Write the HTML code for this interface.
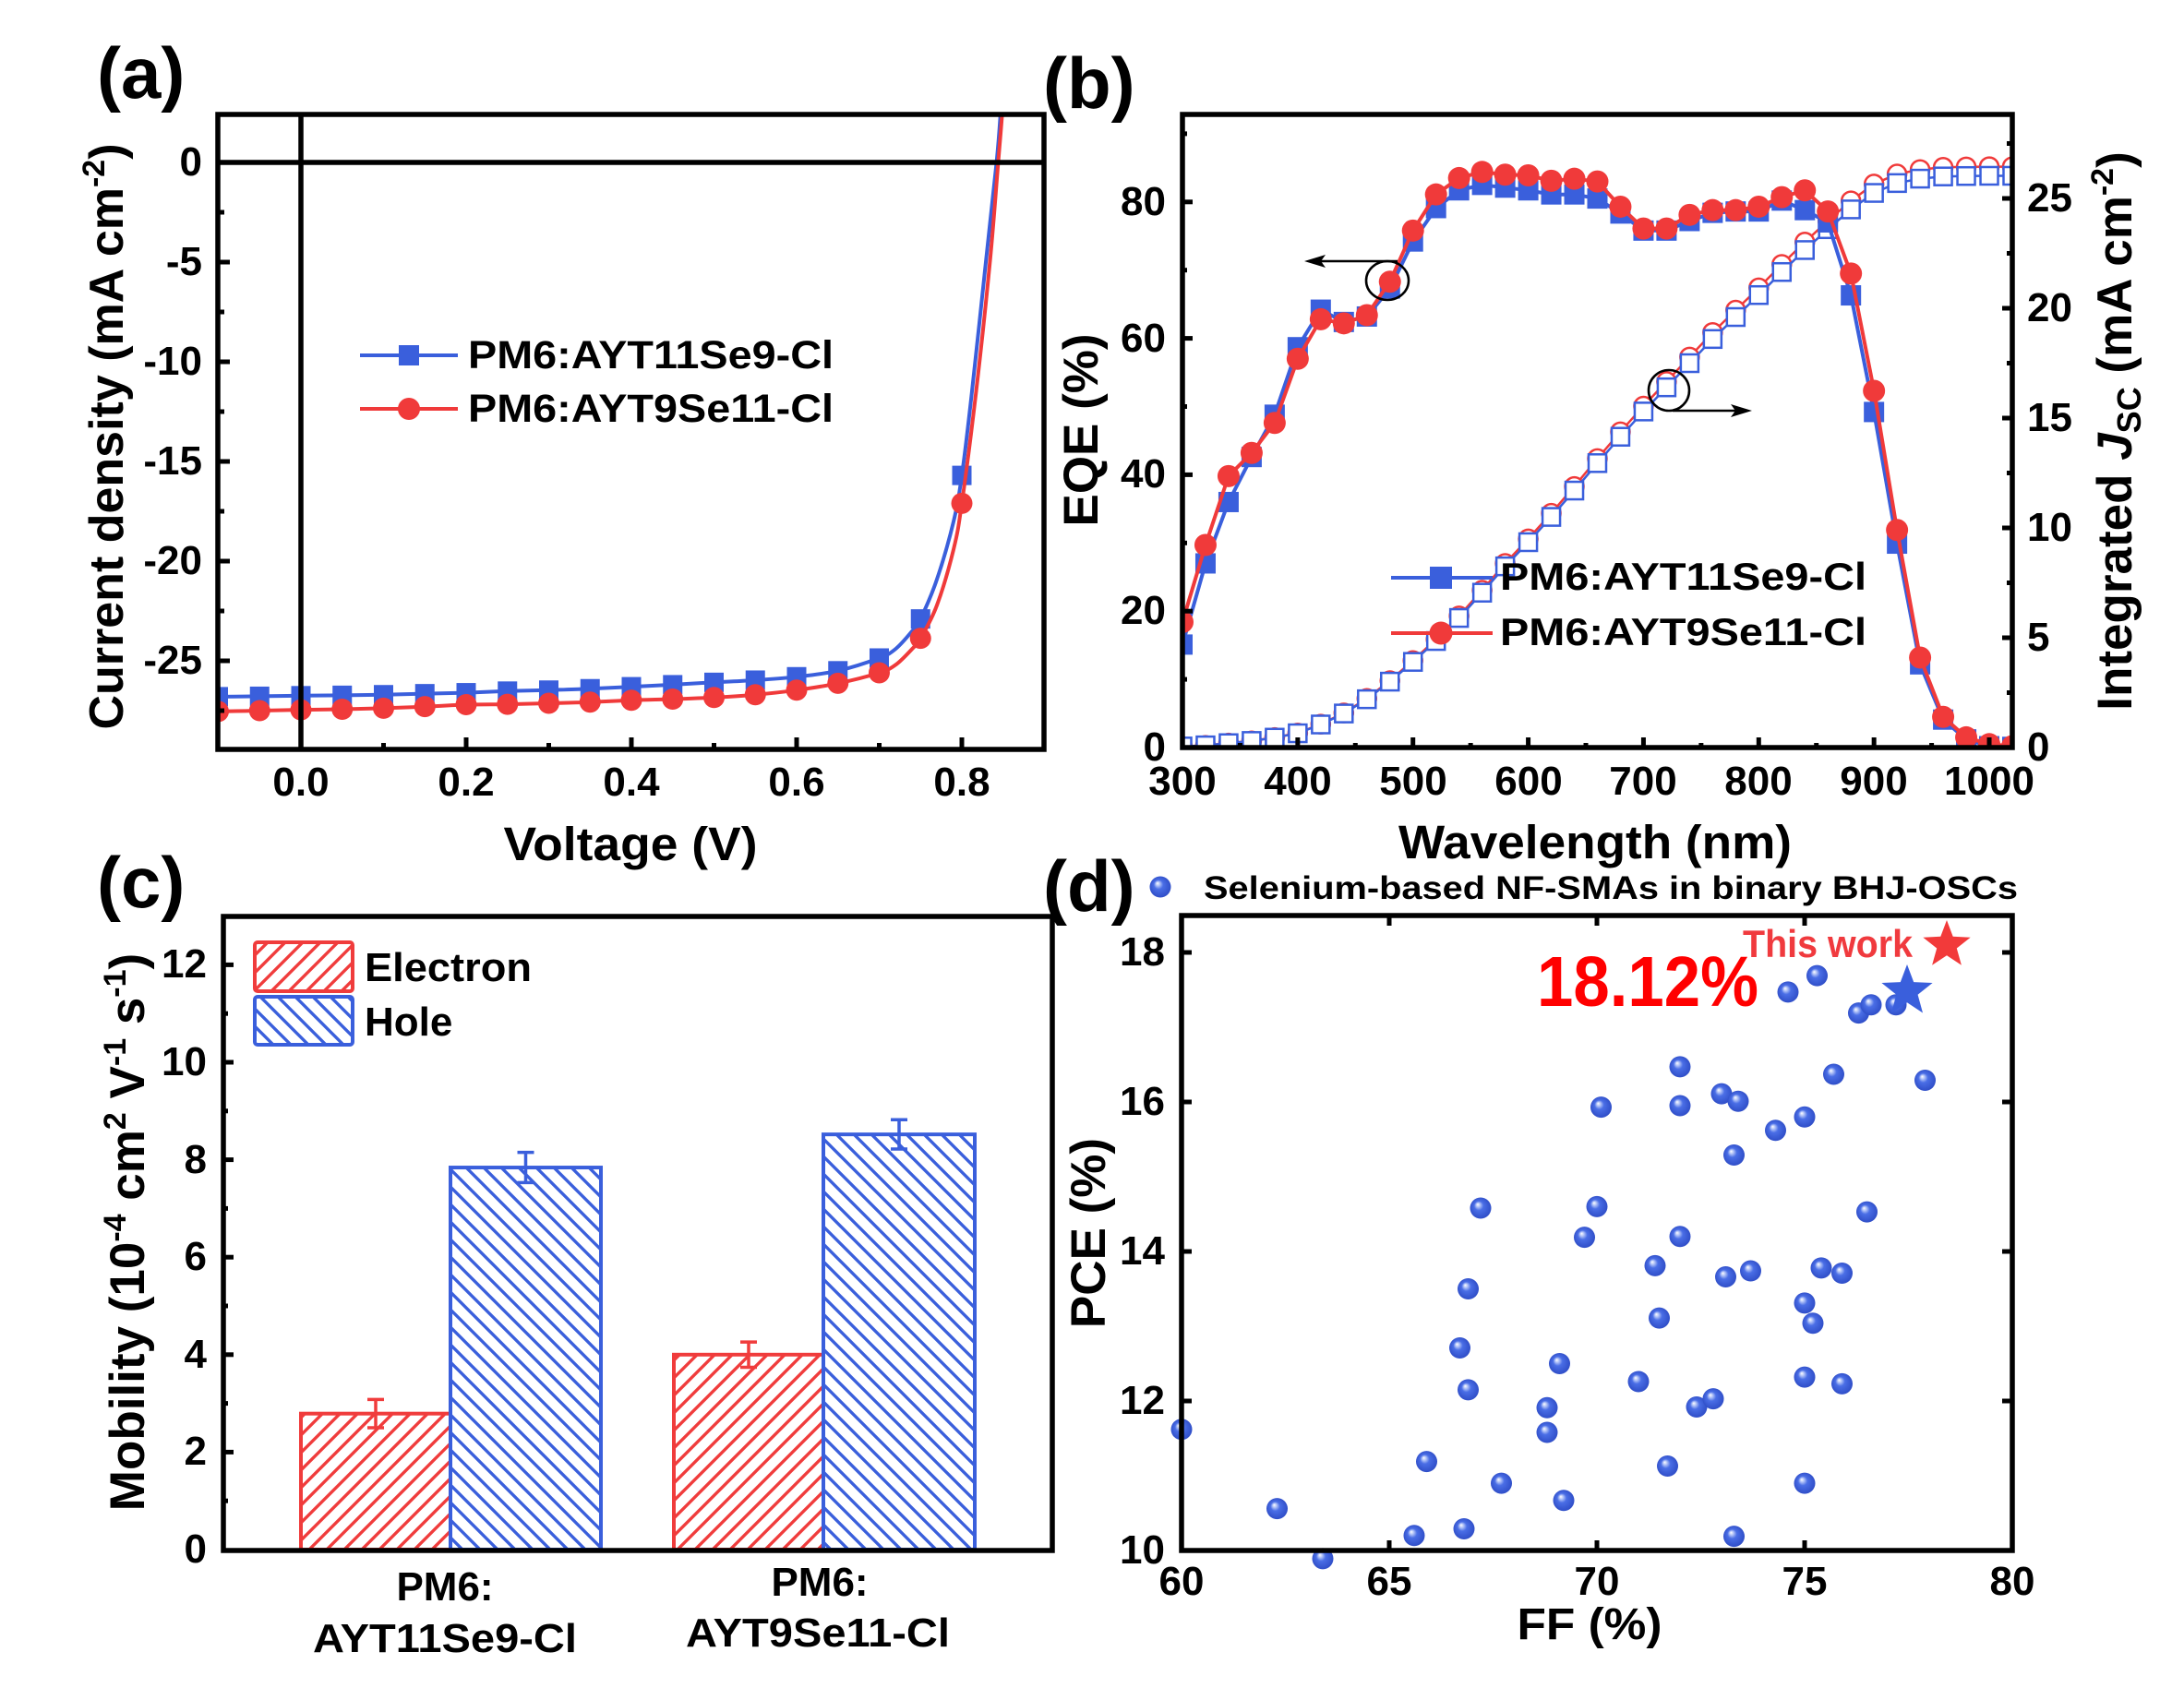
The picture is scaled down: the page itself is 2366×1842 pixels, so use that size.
<!DOCTYPE html>
<html><head><meta charset="utf-8"><title>chart</title>
<style>
html,body{margin:0;padding:0;background:#fff;width:2366px;height:1842px;overflow:hidden;}
svg{display:block;}
text{font-family:"Liberation Sans",Arial,sans-serif;font-weight:bold;fill:#000;}
</style></head><body>
<svg id="s" xmlns="http://www.w3.org/2000/svg" width="2366" height="1842" viewBox="0 0 2366 1842">
<defs>
<pattern id="hr" patternUnits="userSpaceOnUse" width="19" height="19"><path d="M0,19L19,0M-3,3L3,-3M16,22L22,16" stroke="#f03c3c" stroke-width="3.4" fill="none"/></pattern>
<pattern id="hb" patternUnits="userSpaceOnUse" width="19" height="19"><path d="M0,0L19,19M-3,16L3,22M16,-3L22,3" stroke="#3a5fdc" stroke-width="3.4" fill="none"/></pattern>
<radialGradient id="sph" cx="0.5" cy="0.5" r="0.55" fx="0.36" fy="0.32">
<stop offset="0" stop-color="#ffffff"/>
<stop offset="0.16" stop-color="#b8c8f8"/>
<stop offset="0.4" stop-color="#4a6ee6"/>
<stop offset="1" stop-color="#2c4ac4"/>
</radialGradient>
<clipPath id="ca"><rect x="236" y="124" width="895" height="688"/></clipPath>
<clipPath id="cb"><rect x="1281" y="124" width="899" height="686"/></clipPath>
</defs>
<rect width="2366" height="1842" fill="#fff"/>

<g id="ga" clip-path="url(#ca)"></g>
<g id="gb" clip-path="url(#cb)"></g>
<g id="gc"></g>
<g id="gd"></g>

<!-- zero lines (a) -->
<line x1="326" y1="124" x2="326" y2="812" stroke="#000" stroke-width="5.5"/>
<line x1="236" y1="176" x2="1131" y2="176" stroke="#000" stroke-width="5.5"/>

<!-- frames -->
<g fill="none" stroke="#000" stroke-width="5.5">
<rect x="236" y="124" width="895" height="688"/>
<rect x="1281" y="124" width="899" height="686"/>
<rect x="242" y="993" width="898" height="687"/>
<rect x="1280" y="992" width="900" height="688"/>
</g>
<g id="tk"></g>

<!-- annotations (b) -->
<g fill="none" stroke="#000" stroke-width="2.6">
<ellipse cx="1503" cy="304" rx="23" ry="21"/>
<line x1="1514" y1="283" x2="1428" y2="283"/>
<ellipse cx="1808" cy="423" rx="22" ry="22"/>
<line x1="1812" y1="445" x2="1884" y2="445"/>
</g>
<polygon points="1413,283 1436,276 1431,283 1436,290" fill="#000"/>
<polygon points="1898,445 1875,438 1880,445 1875,452" fill="#000"/>

<!-- legend (a) -->
<line x1="390" y1="385" x2="496" y2="385" stroke="#3a5fdc" stroke-width="4"/>
<rect x="432" y="374" width="22" height="22" fill="#3a5fdc"/>
<line x1="390" y1="443" x2="496" y2="443" stroke="#f03a3a" stroke-width="4"/>
<circle cx="443" cy="443" r="12" fill="#f03a3a"/>
<text x="507" y="399" font-size="43" textLength="396" lengthAdjust="spacingAndGlyphs">PM6:AYT11Se9-Cl</text>
<text x="507" y="457" font-size="43" textLength="396" lengthAdjust="spacingAndGlyphs">PM6:AYT9Se11-Cl</text>

<!-- legend (b) -->
<line x1="1507" y1="626" x2="1617" y2="626" stroke="#3a5fdc" stroke-width="4"/>
<rect x="1549" y="614" width="24" height="24" fill="#3a5fdc"/>
<line x1="1507" y1="686" x2="1617" y2="686" stroke="#f03a3a" stroke-width="4"/>
<circle cx="1561" cy="686" r="12.5" fill="#f03a3a"/>
<text x="1625" y="639" font-size="42" textLength="397" lengthAdjust="spacingAndGlyphs">PM6:AYT11Se9-Cl</text>
<text x="1625" y="699" font-size="42" textLength="397" lengthAdjust="spacingAndGlyphs">PM6:AYT9Se11-Cl</text>

<!-- legend (c) -->
<rect x="276" y="1021" width="106" height="53" rx="3" fill="url(#hr)" stroke="#f03c3c" stroke-width="4"/>
<rect x="276" y="1080" width="106" height="52" rx="3" fill="url(#hb)" stroke="#3a5fdc" stroke-width="4"/>
<text x="395" y="1063" font-size="44" textLength="181" lengthAdjust="spacingAndGlyphs">Electron</text>
<text x="395" y="1122" font-size="44">Hole</text>

<!-- legend (d) -->
<circle cx="1257" cy="961" r="11.5" fill="url(#sph)"/>
<text x="1304" y="974" font-size="35" textLength="882" lengthAdjust="spacingAndGlyphs">Selenium-based NF-SMAs in binary BHJ-OSCs</text>
<text x="1888" y="1037" font-size="42" fill="#f03a3e" style="fill:#f03a3e" textLength="184" lengthAdjust="spacingAndGlyphs">This work</text>
<text x="1665" y="1090" font-size="77" style="fill:#ff0000" textLength="240" lengthAdjust="spacingAndGlyphs">18.12%</text>

<!-- panel labels -->
<text x="105" y="106" font-size="78">(a)</text>
<text x="1130" y="117" font-size="78">(b)</text>
<text x="105" y="983" font-size="78">(c)</text>
<text x="1130" y="987" font-size="78">(d)</text>

<!-- (a) tick labels -->
<g font-size="44" text-anchor="end">
<text x="219" y="190">0</text>
<text x="219" y="298">-5</text>
<text x="219" y="406">-10</text>
<text x="219" y="514">-15</text>
<text x="219" y="622">-20</text>
<text x="219" y="730">-25</text>
</g>
<g font-size="44" text-anchor="middle">
<text x="326" y="862">0.0</text>
<text x="505" y="862">0.2</text>
<text x="684" y="862">0.4</text>
<text x="863" y="862">0.6</text>
<text x="1042" y="862">0.8</text>
</g>
<text x="683" y="932" font-size="51" text-anchor="middle" textLength="275" lengthAdjust="spacingAndGlyphs">Voltage (V)</text>
<text transform="translate(133,473) rotate(-90)" font-size="52" text-anchor="middle">Current density (mA cm<tspan font-size="34" dy="-20">-2</tspan><tspan dy="20">)</tspan></text>

<!-- (b) tick labels -->
<g font-size="44" text-anchor="middle">
<text x="1281" y="861">300</text>
<text x="1406" y="861">400</text>
<text x="1531" y="861">500</text>
<text x="1656" y="861">600</text>
<text x="1780" y="861">700</text>
<text x="1905" y="861">800</text>
<text x="2030" y="861">900</text>
<text x="2155" y="861">1000</text>
</g>
<g font-size="44" text-anchor="end">
<text x="1263" y="824">0</text>
<text x="1263" y="676">20</text>
<text x="1263" y="528">40</text>
<text x="1263" y="381">60</text>
<text x="1263" y="233">80</text>
</g>
<g font-size="44" text-anchor="start">
<text x="2196" y="824">0</text>
<text x="2196" y="705">5</text>
<text x="2196" y="586">10</text>
<text x="2196" y="467">15</text>
<text x="2196" y="348">20</text>
<text x="2196" y="229">25</text>
</g>
<text x="1728" y="930" font-size="51" text-anchor="middle" textLength="426" lengthAdjust="spacingAndGlyphs">Wavelength (nm)</text>
<text transform="translate(1189,466) rotate(-90)" font-size="53" text-anchor="middle">EQE (%)</text>
<text transform="translate(2309,467) rotate(-90)" font-size="53" text-anchor="middle">Integrated <tspan font-style="italic">J</tspan><tspan font-size="36" dy="10">SC</tspan><tspan dy="-10"> (mA cm</tspan><tspan font-size="34" dy="-20">-2</tspan><tspan dy="20">)</tspan></text>

<!-- (c) tick labels -->
<g font-size="44" text-anchor="end">
<text x="224" y="1693">0</text>
<text x="224" y="1587">2</text>
<text x="224" y="1482">4</text>
<text x="224" y="1376">6</text>
<text x="224" y="1271">8</text>
<text x="224" y="1165">10</text>
<text x="224" y="1059">12</text>
</g>
<g font-size="44" text-anchor="middle">
<text x="482" y="1734">PM6:</text>
<text x="482" y="1790" textLength="286" lengthAdjust="spacingAndGlyphs">AYT11Se9-Cl</text>
<text x="888" y="1729">PM6:</text>
<text x="886" y="1784" textLength="286" lengthAdjust="spacingAndGlyphs">AYT9Se11-Cl</text>
</g>
<text transform="translate(156,1335) rotate(-90)" font-size="53" text-anchor="middle">Mobility (10<tspan font-size="34" dy="-20">-4</tspan><tspan dy="20"> cm</tspan><tspan font-size="34" dy="-20">2</tspan><tspan dy="20"> V</tspan><tspan font-size="34" dy="-20">-1</tspan><tspan dy="20"> s</tspan><tspan font-size="34" dy="-20">-1</tspan><tspan dy="20">)</tspan></text>

<!-- (d) tick labels -->
<g font-size="44" text-anchor="end">
<text x="1262" y="1694">10</text>
<text x="1262" y="1532">12</text>
<text x="1262" y="1370">14</text>
<text x="1262" y="1208">16</text>
<text x="1262" y="1046">18</text>
</g>
<g font-size="44" text-anchor="middle">
<text x="1280" y="1728">60</text>
<text x="1505" y="1728">65</text>
<text x="1730" y="1728">70</text>
<text x="1955" y="1728">75</text>
<text x="2180" y="1728">80</text>
</g>
<text x="1722" y="1776" font-size="48" text-anchor="middle" textLength="157" lengthAdjust="spacingAndGlyphs">FF (%)</text>
<text transform="translate(1197,1336) rotate(-90)" font-size="53" text-anchor="middle">PCE (%)</text>
</svg>
<script>
(function(){
var NS="http://www.w3.org/2000/svg";
function E(p,t,a){var e=document.createElementNS(NS,t);for(var k in a)e.setAttribute(k,a[k]);p.appendChild(e);return e;}
function G(id){return document.getElementById(id);}
var BL="#3a5fdc",RD="#f03a3a";
function f(v){return v.toFixed(1);}
function cr(pts){
  var d="M"+f(pts[0][0])+","+f(pts[0][1]);
  for(var i=0;i<pts.length-1;i++){
    var p0=pts[i>0?i-1:0],p1=pts[i],p2=pts[i+1],p3=pts[i+2<pts.length?i+2:i+1];
    var c1x=p1[0]+(p2[0]-p0[0])/6,c1y=p1[1]+(p2[1]-p0[1])/6,c2x=p2[0]-(p3[0]-p1[0])/6,c2y=p2[1]-(p3[1]-p1[1])/6;
    d+="C"+[c1x,c1y,c2x,c2y,p2[0],p2[1]].map(f).join(",");
  }
  return d;
}
function pl(pts){return "M"+pts.map(function(p){return f(p[0])+","+f(p[1]);}).join("L");}
function sq(p,x,y,s,fill,stroke,sw){E(p,"rect",{x:x-s/2,y:y-s/2,width:s,height:s,fill:fill,stroke:stroke||"none","stroke-width":sw||0});}
function ci(p,x,y,r,fill,stroke,sw){E(p,"circle",{cx:x,cy:y,r:r,fill:fill,stroke:stroke||"none","stroke-width":sw||0});}
function ln(p,x1,y1,x2,y2,sw,col){E(p,"line",{x1:x1,y1:y1,x2:x2,y2:y2,stroke:col||"#000","stroke-width":sw||5});}

/* ---------- panel a ---------- */
var ga=G("ga");
var XA=function(v){return 326+v*895},YA=function(j){return 176-j*21.6};
var V=[-0.1,-0.05,0,0.05,0.1,0.15,0.2,0.25,0.3,0.35,0.4,0.45,0.5,0.55,0.6,0.65,0.7,0.75,0.8];
var JB=[-26.8,-26.78,-26.75,-26.73,-26.7,-26.65,-26.6,-26.52,-26.47,-26.4,-26.3,-26.2,-26.08,-25.97,-25.8,-25.5,-24.86,-22.9,-15.7];
var JR=[-27.54,-27.5,-27.46,-27.43,-27.38,-27.3,-27.2,-27.18,-27.13,-27.07,-26.98,-26.92,-26.84,-26.7,-26.47,-26.13,-25.6,-23.87,-17.1];
function merge(vs,js,extra){
  var a=[];for(var i=0;i<vs.length;i++)a.push([vs[i],js[i]]);
  a=a.concat(extra);a.sort(function(p,q){return p[0]-q[0];});
  return a.map(function(p){return [XA(p[0]),YA(p[1])];});
}
var bx=[[0.72,-24.4],[0.74,-23.5],[0.77,-20.9],[0.79,-18.0],[0.812,-11.6],[0.829,-5],[0.842,0],[0.847,2.6],[0.85,5]];
var rx=[[0.72,-25.2],[0.74,-24.4],[0.77,-22.2],[0.79,-19.4],[0.817,-11.6],[0.834,-5],[0.844,0],[0.849,2.6],[0.852,5]];
E(ga,"path",{d:cr(merge(V,JB,bx)),fill:"none",stroke:BL,"stroke-width":4});
for(var i=0;i<V.length;i++)sq(ga,XA(V[i]),YA(JB[i]),21,BL);
E(ga,"path",{d:cr(merge(V,JR,rx)),fill:"none",stroke:RD,"stroke-width":4});
for(i=0;i<V.length;i++)ci(ga,XA(V[i]),YA(JR[i]),11.5,RD);

/* ---------- panel b ---------- */
var gb=G("gb");
var XB=function(l){return 1281+(l-300)*1.2486},YE=function(e){return 810-e*7.39},YJ=function(j){return 810-j*23.8};
var L=[];for(var l=300;l<=1020;l+=20)L.push(l);
var EB=[15.1,27.0,36.0,42.6,48.8,58.7,64.2,62.4,63.2,67.3,74.2,79.1,81.7,82.5,82.1,81.7,81.1,81.1,80.5,78.3,75.8,75.8,77.2,78.4,78.6,78.6,80.2,78.8,77.0,66.3,49.2,29.9,12.2,4.1,1.2,0.2,0.1];
var ER=[18.4,29.7,39.8,43.2,47.6,57.0,62.8,62.2,63.4,68.3,75.8,81.1,83.5,84.4,84.0,83.9,83.1,83.4,83.0,79.3,76.1,76.1,78.1,78.8,78.8,79.3,80.7,81.7,78.6,69.5,52.3,31.9,13.2,4.5,1.5,0.5,0.2];
var JBb=[0.05,0.1,0.2,0.3,0.45,0.65,1.05,1.55,2.2,3.0,3.9,4.85,5.9,7.05,8.25,9.35,10.5,11.7,12.95,14.15,15.3,16.4,17.5,18.6,19.6,20.6,21.65,22.65,23.6,24.5,25.25,25.7,25.9,26.0,26.02,26.03,26.03];
var JRr=JBb.map(function(v){return v*1.016;});
function pts(arr,Y){return L.map(function(l,k){return [XB(l),Y(arr[k])];});}
// integrated Jsc (red under blue)
var pr=pts(JRr,YJ),pbj=pts(JBb,YJ);
E(gb,"path",{d:pl(pr),fill:"none",stroke:RD,"stroke-width":2.5});
pr.forEach(function(p){ci(gb,p[0],p[1],10,"#fff",RD,2.5);});
E(gb,"path",{d:pl(pbj),fill:"none",stroke:BL,"stroke-width":2.5});
pbj.forEach(function(p){sq(gb,p[0],p[1],19,"#fff",BL,2.5);});
// EQE
var pe=pts(EB,YE),pre=pts(ER,YE);
E(gb,"path",{d:pl(pe),fill:"none",stroke:BL,"stroke-width":4});
pe.forEach(function(p){sq(gb,p[0],p[1],22,BL);});
E(gb,"path",{d:pl(pre),fill:"none",stroke:RD,"stroke-width":4});
pre.forEach(function(p){ci(gb,p[0],p[1],12,RD);});

/* ---------- panel c ---------- */
var gc=G("gc");
var Y0=1679,U=52.8;
var bars=[[326,488,2.79,0.29,0],[488,651,7.84,0.31,1],[730,892,4.0,0.26,0],[892,1056,8.52,0.3,1]];
bars.forEach(function(b){
  var col=b[4]?BL:"#f03c3c",pat=b[4]?"url(#hb)":"url(#hr)";
  var top=Y0-b[2]*U;
  E(gc,"rect",{x:b[0],y:top,width:b[1]-b[0],height:b[2]*U,fill:pat,stroke:col,"stroke-width":4});
  var cx=(b[0]+b[1])/2,yt=Y0-(b[2]+b[3])*U,yb=Y0-(b[2]-b[3])*U;
  ln(gc,cx,yt,cx,yb,3.5,col);ln(gc,cx-9,yt,cx+9,yt,3.5,col);ln(gc,cx-9,yb,cx+9,yb,3.5,col);
});

/* ---------- panel d ---------- */
var gd=G("gd");
var XD=function(v){return 1280+(v-60)*45},YD=function(p){return 1680-(p-10)*81};
var P=[[60.0,11.62],[62.3,10.56],[63.4,9.89],[65.6,10.20],[65.9,11.19],[66.8,10.29],[66.7,12.71],[66.9,13.50],[66.9,12.15],[67.2,14.58],[67.7,10.90],[68.8,11.91],[68.8,11.58],[69.1,12.50],[69.2,10.67],[69.7,14.19],[70.0,14.60],[70.1,15.93],[71.0,12.26],[71.4,13.81],[71.5,13.11],[71.7,11.13],[72.0,16.47],[72.0,15.95],[72.0,14.20],[72.4,11.92],[72.8,12.03],[73.0,16.11],[73.1,13.66],[73.3,15.29],[73.4,16.01],[73.3,10.19],[73.7,13.74],[74.3,15.62],[74.6,17.47],[75.0,15.80],[75.0,13.31],[75.2,13.04],[75.0,12.32],[75.0,10.90],[75.3,17.69],[75.4,13.78],[75.7,16.37],[75.9,13.71],[75.9,12.23],[76.5,14.53],[76.3,17.19],[76.6,17.30],[77.2,17.30],[77.9,16.29]];
P.forEach(function(p){ci(gd,XD(p[0]),YD(p[1]),11.5,"url(#sph)");});
function star(cx,cy,R,col){
  var s=[];for(var k=0;k<10;k++){var a=(-90+k*36)*Math.PI/180,r=k%2?R*0.42:R;s.push(f(cx+r*Math.cos(a))+","+f(cy+r*Math.sin(a)));}
  E(gd,"polygon",{points:s.join(" "),fill:col});
}
star(2066,1074,29,"#3a5fdc");
star(2109,1024,27,"#f23a3a");

/* ---------- ticks ---------- */
var tk=G("tk");
// (a) left
for(var k=-11;k<=0;k++){var y=YA(k*2.5);var len=(k%2===0)?13:7;ln(tk,236,y,236+len,y,5);}
// (a) bottom
for(k=0;k<=8;k++){var x=XA(k*0.1);var len2=(k%2===0)?13:7;ln(tk,x,812,x,812-len2,5);}
// (b) left
for(k=1;k<=9;k++){var y2=YE(k*10);ln(tk,1281,y2,1281+((k%2===0)?11:5),y2,5);}
// (b) right
for(k=1;k<=11;k++){var y3=YJ(k*2.5);ln(tk,2180,y3,2180-((k%2===0)?11:6),y3,5);}
// (b) bottom
for(k=1;k<=14;k++){var x3=XB(300+k*50);ln(tk,x3,810,x3,810-((k%2===0)?11:5),5);}
// (c) left
for(k=1;k<=12;k++){var y4=Y0-k*U;ln(tk,242,y4,242+((k%2===0)?11:5),y4,5);}
// (d)
[12,14,16,18].forEach(function(p){var y=YD(p);ln(tk,1280,y,1291,y,5);ln(tk,2180,y,2169,y,5);});
[65,70,75].forEach(function(v){var x=XD(v);ln(tk,x,1680,x,1669,5);ln(tk,x,992,x,1003,5);});
})();
</script>
</body></html>
